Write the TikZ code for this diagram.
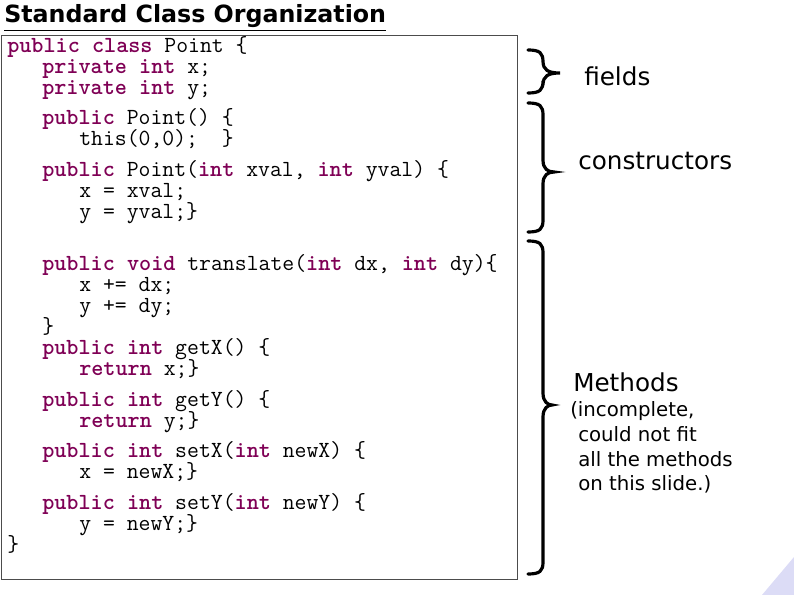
\documentclass[tikz,border=0pt]{standalone}
\usepackage{fontspec}
\setmainfont{DejaVu Sans}
\definecolor{kw}{HTML}{7F0055}
\definecolor{lav}{HTML}{DCDCF6}
\newcommand\kw[1]{\textcolor{kw}{\textbf{#1}}}
\newcommand\mybrace[5]{% left x, top y, bottom y, tip y, tip x  (vertical at #1+15)
  \draw[brc] (#1,#2) .. controls (#1+12,#2) and (#1+15,#2+3) .. (#1+15,#2+12)
    -- (#1+15,#4-12) .. controls (#1+15,#4-3) and (#1+20,#4) .. (#5,#4)
    .. controls (#1+20,#4) and (#1+15,#4+3) .. (#1+15,#4+12)
    -- (#1+15,#3-12) .. controls (#1+15,#3-3) and (#1+12,#3) .. (#1,#3);}
\begin{document}
\begin{tikzpicture}[x=0.75pt,y=-0.75pt,
  code/.style={anchor=base west,inner sep=0pt,font=\ttfamily\fontsize{17.3}{17.3}\selectfont},
  lbl/.style={anchor=base west,inner sep=0pt,font=\fontsize{18.5}{18.5}\selectfont},
  small/.style={anchor=base west,inner sep=0pt,font=\fontsize{14.8}{14.8}\selectfont},
  brc/.style={line width=2.4pt,line cap=round}]
\useasboundingbox (0,0) rectangle (794,595);
\fill[lav] (794,557) -- (794,595) -- (762,595) -- cycle;
\node[anchor=base west,inner sep=0pt,font=\bfseries\fontsize{17.8}{17.8}\selectfont] (title) at (4,23) {\underline{Standard Class Organization}};
\draw[black!70,line width=0.6pt] (1,35) rectangle (517,579);
\node[code] (l1) at (7,53) {\kw{public class} Point \{};
\node[code] (l2) at (42,74) {\kw{private int} x;};
\node[code] (l3) at (42,95) {\kw{private int} y;};
\node[code] (l4) at (42,125) {\kw{public} Point() \{};
\node[code] (l5) at (79,146) {this(0,0);~~\}};
\node[code] (l6) at (42,177) {\kw{public} Point(\kw{int} xval, \kw{int} yval) \{};
\node[code] (l7) at (79,198) {x = xval;};
\node[code] (l8) at (79,219) {y = yval;\}};
\node[code] (l9) at (42,271) {\kw{public void} translate(\kw{int} dx, \kw{int} dy)\{};
\node[code] (l10) at (79,292) {x += dx;};
\node[code] (l11) at (79,313) {y += dy;};
\node[code] (l12) at (42,334) {\}};
\node[code] (l13) at (42,355) {\kw{public int} getX() \{};
\node[code] (l14) at (79,376) {\kw{return} x;\}};
\node[code] (l15) at (42,407) {\kw{public int} getY() \{};
\node[code] (l16) at (79,428) {\kw{return} y;\}};
\node[code] (l17) at (42,458) {\kw{public int} setX(\kw{int} newX) \{};
\node[code] (l18) at (79,479) {x = newX;\}};
\node[code] (l19) at (42,510) {\kw{public int} setY(\kw{int} newY) \{};
\node[code] (l20) at (79,531) {y = newY;\}};
\node[code] (l21) at (7,552) {\}};
\mybrace{528}{50}{93}{73}{560}
\mybrace{528}{103}{232}{172}{554}
\mybrace{528}{241}{574}{405}{552}
\node[lbl] (fields) at (584,86) {fields};
\node[lbl] (ctor) at (578,170) {constructors};
\node[lbl] (meth) at (573,392) {Methods};
\node[small] (m1) at (570,417) {(incomplete,};
\node[small] (m2) at (578,442) {could not fit};
\node[small] (m3) at (578,467) {all the methods};
\node[small] (m4) at (578,491) {on this slide.)};
\end{tikzpicture}
\end{document}
